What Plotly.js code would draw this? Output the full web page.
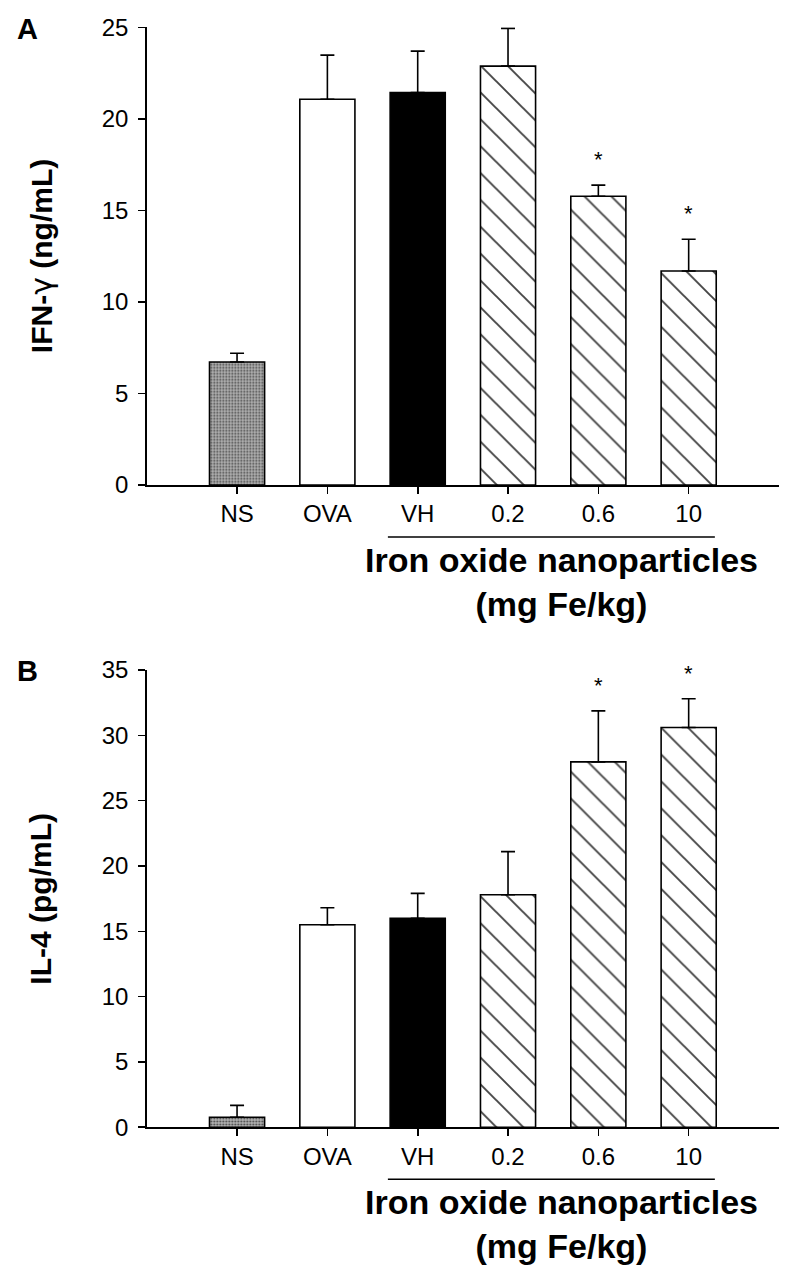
<!DOCTYPE html>
<html>
<head>
<meta charset="utf-8">
<script src="https://cdn.plot.ly/plotly-3.0.1.min.js"></script>
<style>html,body{margin:0;padding:0;background:#fff;}#chart{width:794px;height:1276px;}</style>
</head>
<body>
<div id="chart"></div>
<script>
// ---- data ----
var groups = ['NS', 'OVA', 'VH', '0.2', '0.6', '10'];
var ifnMean = [6.72, 21.07, 21.43, 22.88, 15.77, 11.69];
var ifnErr  = [0.48, 2.41, 2.27, 2.06, 0.61, 1.73];
var ifnSig  = ['', '', '', '', '*', '*'];
var il4Mean = [0.77, 15.5, 16.0, 17.8, 27.97, 30.6];
var il4Err  = [0.91, 1.3, 1.9, 3.3, 3.9, 2.2];
var il4Sig  = ['', '', '', '', '*', '*'];
var panelLetters = ['A', 'B'];
var yTitles = ['IFN-<span style="font-family:DejaVu Sans;font-weight:normal">\u03b3</span> (ng/mL)', 'IL-4 (pg/mL)'];
var xTitle = 'Iron oxide nanoparticles<br>(mg Fe/kg)';
var ifnRange = [0, 25];
var il4Range = [0, 35];

// ---- styles ----
var fillColors = ['#b2b2b2', '#ffffff', '#000000', '#ffffff', '#ffffff', '#ffffff'];
var patShapes = ['.', '', '', '\\', '\\', '\\'];
var patFg = ['#6a6a6a', '#000000', '#000000', '#000000', '#000000', '#000000'];
var patSize = [3, 8, 8, 19, 19, 19];
var patSolid = [0.3, 0.1, 0.1, 0.1, 0.1, 0.1];

var FONT = 'Liberation Sans, Arial, Helvetica, sans-serif';

function barTrace(means, errs, xa, ya) {
  return {
    type: 'bar', x: groups, y: means, xaxis: xa, yaxis: ya,
    width: 0.61, showlegend: false, hoverinfo: 'skip',
    marker: {
      color: fillColors,
      line: {color: '#000', width: 1.6},
      pattern: {shape: patShapes, fgcolor: patFg, bgcolor: fillColors, size: patSize, solidity: patSolid,
                fillmode: 'overlay', fgopacity: 1}
    },
    error_y: {type: 'data', symmetric: false, array: errs, arrayminus: errs.map(function(){return 0;}),
              color: '#000', thickness: 1.6, width: 7}
  };
}

var data = [barTrace(ifnMean, ifnErr, 'x', 'y'), barTrace(il4Mean, il4Err, 'x2', 'y2')];

function xAxis(anchor) {
  return {
    domain: [0.1848, 0.9811], anchor: anchor, type: 'category', categoryarray: groups,
    range: [-1, 6], showline: true, linecolor: '#000', linewidth: 1.6,
    ticks: 'outside', ticklen: 7, tickwidth: 1.6, tickcolor: '#000',
    showgrid: false, zeroline: false, fixedrange: true,
    tickfont: {family: FONT, size: 24, color: '#000'}
  };
}
function yAxis(anchor, dom, rng) {
  return {
    domain: dom, anchor: anchor, range: rng, dtick: 5, tick0: 0,
    showline: true, linecolor: '#000', linewidth: 1.6,
    ticks: 'outside', ticklen: 7, tickwidth: 1.6, tickcolor: '#000',
    ticklabelstandoff: 5,
    showgrid: false, zeroline: false, fixedrange: true,
    tickfont: {family: FONT, size: 24, color: '#000'}
  };
}

var annotations = [];
var shapes = [];
var panels = [
  {mean: ifnMean, err: ifnErr, sig: ifnSig, xa: 'x', ya: 'y', dom: [0.6199, 0.9786], letterY: 1 - 29/1276, lineY: 1 - 537/1276, titleY: 1 - 582/1276},
  {mean: il4Mean, err: il4Err, sig: il4Sig, xa: 'x2', ya: 'y2', dom: [0.11654, 0.47492], letterY: 1 - 671/1276, lineY: 1 - 1179.3/1276, titleY: 1 - 1224.3/1276}
];
panels.forEach(function(p, k) {
  // significance stars (x given as category index)
  for (var i = 0; i < groups.length; i++) {
    if (p.sig[i]) {
      annotations.push({xref: p.xa, yref: p.ya, x: i, y: p.mean[i] + p.err[i],
        text: p.sig[i], showarrow: false, yanchor: 'bottom', yshift: 11,
        font: {family: FONT, size: 22, color: '#000'}});
    }
  }
  // panel letter
  annotations.push({xref: 'paper', yref: 'paper', x: 27/794, y: p.letterY, text: '<b>' + panelLetters[k] + '</b>',
    showarrow: false, xanchor: 'center', yanchor: 'middle', font: {family: FONT, size: 29, color: '#000'}});
  // y title
  annotations.push({xref: 'paper', yref: 'paper', x: 41/794, y: (p.dom[0] + p.dom[1]) / 2, text: '<b>' + yTitles[k] + '</b>',
    textangle: -90, showarrow: false, xanchor: 'center', yanchor: 'middle', font: {family: FONT, size: 30, color: '#000'}});
  // grouped x title
  annotations.push({xref: 'paper', yref: 'paper', x: 561/794, y: p.titleY, text: '<b>' + xTitle + '</b>',
    showarrow: false, xanchor: 'center', yanchor: 'middle', font: {family: FONT, size: 34, color: '#000'}});
  // bracket line under treated groups
  shapes.push({type: 'line', xref: p.xa, yref: 'paper', x0: groups.indexOf('VH') - 0.33, x1: groups.indexOf('10') + 0.29,
    y0: p.lineY, y1: p.lineY, line: {color: '#000', width: 1.6}});
});

var layout = {
  width: 794, height: 1276,
  margin: {l: 0, r: 0, t: 0, b: 0},
  paper_bgcolor: '#fff', plot_bgcolor: 'rgba(0,0,0,0)',
  showlegend: false,
  xaxis: xAxis('y'), yaxis: yAxis('x', panels[0].dom, ifnRange),
  xaxis2: xAxis('y2'), yaxis2: yAxis('x2', panels[1].dom, il4Range),
  annotations: annotations, shapes: shapes,
  font: {family: FONT, color: '#000'}
};

Plotly.newPlot('chart', data, layout, {displayModeBar: false, staticPlot: true});
</script>
</body>
</html>
